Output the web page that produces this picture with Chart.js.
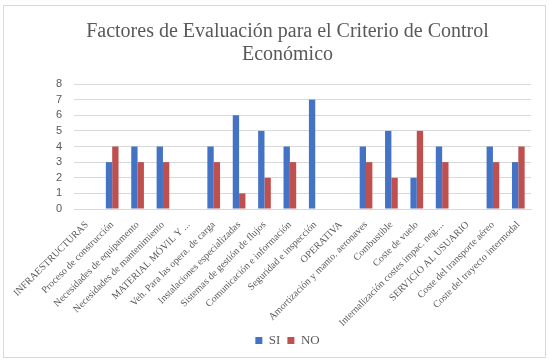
<!DOCTYPE html>
<html>
<head>
<meta charset="utf-8">
<script src="https://cdn.jsdelivr.net/npm/chart.js@4"></script>
<style>
  html, body { margin: 0; padding: 0; background: #fff; }
  #wrap {
    position: absolute; left: 3px; top: 5px;
    width: 541px; height: 351px;
    border: 1px solid #d9d9d9;
  }
</style>
</head>
<body>
<div id="wrap"><canvas id="myChart"></canvas></div>
<script>
  const categories = [
    "INFRAESTRUCTURAS",
    "Proceso de construcción",
    "Necesidades de equipamento",
    "Necesidades de mantenimiento",
    "MATERIAL MÓVIL Y ...",
    "Veh. Para las opera. de carga",
    "Instalaciones especializadas",
    "Sistemas de gestión de flujos",
    "Comunicación e información",
    "Seguridad e inspección",
    "OPERATIVA",
    "Amortización y manto. aeronaves",
    "Combustible",
    "Coste de vuelo",
    "Internalización costes impac. neg....",
    "SERVICIO AL USUARIO",
    "Coste del transporte aéreo",
    "Coste del trayecto intermodal",
  ];
  const siValues = [null, 3, 4, 4, null, 4, 6, 5, 4, 7, null, 4, 5, 2, 4, null, 4, 3];
  const noValues = [null, 4, 3, 3, null, 3, 1, 2, 3, null, null, 3, 2, 5, 3, null, 3, 4];
  const yTicks = [0, 1, 2, 3, 4, 5, 6, 7, 8];

  Chart.defaults.font.family = "Liberation Serif";
  Chart.defaults.color = "#595959";

  const config = {
    type: "bar",
    data: {
      labels: categories,
      datasets: [
        { label: "SI", data: siValues, backgroundColor: "#4472C4" },
        { label: "NO", data: noValues, backgroundColor: "#C0504D" },
      ],
    },
    options: {
      responsive: true,
      maintainAspectRatio: false,
      animation: false,
      layout: { padding: { left: 40, right: 14, top: 8, bottom: 0 } },
      datasets: { bar: { categoryPercentage: 0.5, barPercentage: 1.0 } },
      plugins: {
        title: {
          display: true,
          text: ["Factores de Evaluación para el Criterio de Control", "Económico"],
          color: "#595959",
          font: { size: 20, weight: "normal", lineHeight: 1.15 },
          padding: { top: 6, bottom: 18 },
        },
        legend: {
          position: "bottom",
          labels: {
            boxWidth: 7, boxHeight: 7, color: "#595959",
            font: { size: 13 },
            padding: 7,
          },
        },
        tooltip: { enabled: false },
      },
      scales: {
        x: {
          grid: { display: false },
          border: { color: "#d9d9d9" },
          afterFit: (axis) => { axis.height = 118; },
          ticks: {
            color: "#595959", autoSkip: false,
            maxRotation: 45, minRotation: 45,
            font: { size: 10 },
            padding: 2,
          },
        },
        y: {
          min: yTicks[0], max: yTicks[yTicks.length - 1],
          afterBuildTicks: (axis) => { axis.ticks = yTicks.map((v) => ({ value: v })); },
          grid: { color: "#d9d9d9", drawTicks: false },
          border: { display: false },
          ticks: { color: "#595959", autoSkip: false, font: { family: "Liberation Sans", size: 11 }, padding: 12 },
        },
      },
    },
  };

  new Chart(document.getElementById("myChart"), config);
</script>
</body>
</html>
